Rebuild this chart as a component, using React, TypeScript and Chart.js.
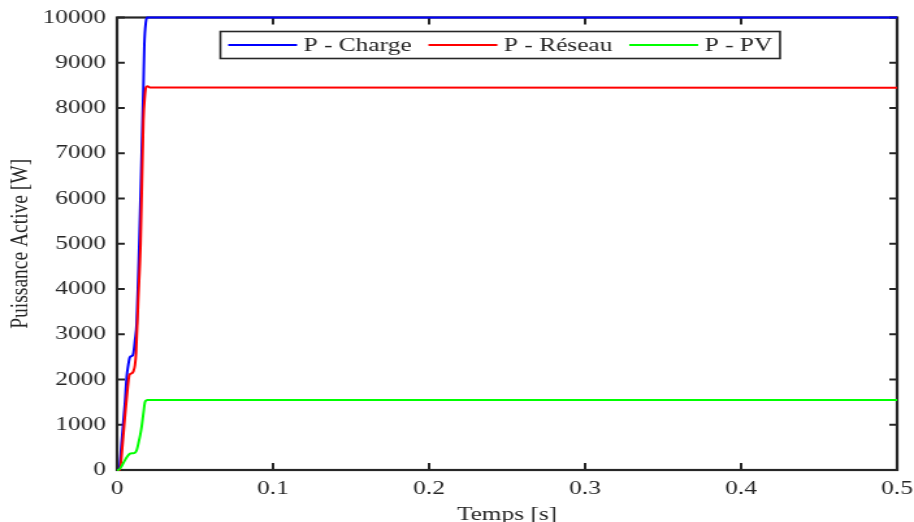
import React, { useEffect, useRef } from "react";
import { Chart, registerables } from "chart.js";

Chart.register(...registerables);

// Puissance active (W) versus temps (s) for the three sources
const chargeTime = [0, 0.0012, 0.003, 0.005, 0.0062, 0.0072, 0.0082, 0.0095, 0.0105, 0.0115, 0.0126, 0.0143, 0.0162, 0.0169, 0.0175, 0.0185, 0.0193, 0.5];
const chargeW = [0, 0, 650, 1450, 2060, 2320, 2490, 2520, 2580, 2870, 3240, 5080, 7500, 8460, 9400, 9900, 10000, 10000];

const reseauTime = [0, 0.0018, 0.0035, 0.005, 0.0065, 0.0079, 0.009, 0.0105, 0.0115, 0.0122, 0.0135, 0.0151, 0.0169, 0.0178, 0.0186, 0.0195, 0.021, 0.5];
const reseauW = [0, 0, 550, 1150, 1700, 2100, 2130, 2180, 2320, 2580, 3670, 5000, 7720, 8250, 8460, 8480, 8455, 8450];

const pvTime = [0, 0.0008, 0.003, 0.0051, 0.0068, 0.0083, 0.01, 0.0115, 0.0127, 0.0137, 0.0148, 0.0158, 0.0169, 0.0179, 0.0187, 0.0196, 0.5];
const pvW = [0, 0, 90, 220, 310, 360, 370, 380, 450, 590, 760, 960, 1250, 1500, 1535, 1545, 1545];

const seriesLabels = ["P - Charge", "P - Réseau", "P - PV"];
const seriesColors = ["#0000ff", "#ff0000", "#00ff00"];

const xTicks = [0, 0.1, 0.2, 0.3, 0.4, 0.5];
const yTicks = [0, 1000, 2000, 3000, 4000, 5000, 6000, 7000, 8000, 9000, 10000];

const xTitle = "Temps [s]";
const yTitle = "Puissance Active [W]";

// The figure is laid out on a narrower canvas and widened horizontally.
const FIG_W = 914;
const FIG_H = 522;
const BASE_W = 703;

const INK = "#262626";
const FONT_FAMILY = '"Liberation Serif", "Times New Roman", serif';
const FONT_SIZE = 19.5;

const toPoints = (t: number[], v: number[]) => t.map((x, i) => ({ x, y: v[i] }));

// Axis box with inward ticks on all four sides
const framePlugin = {
  id: "frameBox",
  beforeDatasetsDraw(chart: any) {
    const { ctx, chartArea } = chart;
    const { left, right, top, bottom } = chartArea;
    const xs = chart.scales.x;
    const ys = chart.scales.y;
    ctx.save();
    ctx.strokeStyle = INK;
    ctx.lineWidth = 2;
    ctx.beginPath();
    xTicks.forEach((v) => {
      const px = xs.getPixelForValue(v);
      ctx.moveTo(px, bottom);
      ctx.lineTo(px, bottom - 7);
      ctx.moveTo(px, top);
      ctx.lineTo(px, top + 7);
    });
    yTicks.forEach((v) => {
      const py = ys.getPixelForValue(v);
      ctx.moveTo(left, py);
      ctx.lineTo(left + 6, py);
      ctx.moveTo(right, py);
      ctx.lineTo(right - 6, py);
    });
    ctx.stroke();
    ctx.lineWidth = 2.2;
    ctx.strokeRect(left, top, right - left, bottom - top);
    ctx.restore();
  },
};

// Boxed legend inside the top of the plot area
const legendPlugin = {
  id: "boxLegend",
  afterDraw(chart: any) {
    const { ctx } = chart;
    const boxLeft = 169.5;
    const boxTop = 31.5;
    const boxH = 27;
    const padL = 6;
    const lineLen = 53;
    const lineGap = 5;
    const itemGap = 13;
    const padR = 6;
    ctx.save();
    ctx.font = `${FONT_SIZE}px ${FONT_FAMILY}`;
    const widths = seriesLabels.map((s) => ctx.measureText(s).width);
    let total = padL + padR;
    widths.forEach((w, i) => {
      total += lineLen + lineGap + w + (i < widths.length - 1 ? itemGap : 0);
    });
    ctx.fillStyle = "#ffffff";
    ctx.fillRect(boxLeft, boxTop, total, boxH);
    ctx.strokeStyle = INK;
    ctx.lineWidth = 1.6;
    ctx.strokeRect(boxLeft, boxTop, total, boxH);
    const cy = boxTop + boxH / 2;
    let x = boxLeft + padL;
    ctx.textBaseline = "middle";
    ctx.textAlign = "left";
    seriesLabels.forEach((label, i) => {
      ctx.strokeStyle = seriesColors[i];
      ctx.lineWidth = 2;
      ctx.beginPath();
      ctx.moveTo(x, cy);
      ctx.lineTo(x + lineLen, cy);
      ctx.stroke();
      x += lineLen + lineGap;
      ctx.fillStyle = INK;
      ctx.fillText(label, x, cy + 0.5);
      x += widths[i] + itemGap;
    });
    ctx.restore();
  },
};

export default function App() {
  const canvasRef = useRef<HTMLCanvasElement | null>(null);

  useEffect(() => {
    if (!canvasRef.current) return;
    const font = { family: FONT_FAMILY, size: FONT_SIZE, lineHeight: 1 };
    const chart = new Chart(canvasRef.current, {
      type: "line",
      data: {
        datasets: [
          {
            label: seriesLabels[0],
            data: toPoints(chargeTime, chargeW),
            borderColor: seriesColors[0],
            order: 3,
            clip: 3,
          },
          {
            label: seriesLabels[1],
            data: toPoints(reseauTime, reseauW),
            borderColor: seriesColors[1],
            order: 2,
            clip: 3,
          },
          {
            label: seriesLabels[2],
            data: toPoints(pvTime, pvW),
            borderColor: seriesColors[2],
            order: 1,
            clip: 3,
          },
        ],
      },
      options: {
        animation: false,
        responsive: true,
        maintainAspectRatio: false,
        devicePixelRatio: 1,
        layout: { padding: { top: 17.5, right: 13, left: 0, bottom: 0 } },
        elements: {
          point: { radius: 0 },
          line: { borderWidth: 2, cubicInterpolationMode: "monotone", fill: false },
        },
        plugins: {
          legend: { display: false },
          tooltip: { enabled: false },
        },
        scales: {
          x: {
            type: "linear",
            min: 0,
            max: 0.5,
            grid: { display: false, drawTicks: false },
            border: { display: false },
            afterBuildTicks: (scale: any) => {
              scale.ticks = xTicks.map((value) => ({ value }));
            },
            afterFit: (scale: any) => {
              scale.height = 52;
              scale.paddingLeft = 0;
              scale.paddingRight = 0;
            },
            ticks: {
              color: INK,
              font,
              padding: 9,
              maxRotation: 0,
              autoSkip: false,
              callback: (v: any) => String(Number(Number(v).toFixed(1))),
            },
            title: {
              display: true,
              text: xTitle,
              color: INK,
              font,
              padding: { top: 0, bottom: -3 },
            },
          },
          y: {
            type: "linear",
            min: 0,
            max: 10000,
            grid: { display: false, drawTicks: false },
            border: { display: false },
            afterBuildTicks: (scale: any) => {
              scale.ticks = yTicks.map((value) => ({ value }));
            },
            afterFit: (scale: any) => {
              scale.width = 90;
              scale.paddingTop = 0;
              scale.paddingBottom = 0;
            },
            ticks: {
              color: INK,
              font,
              padding: 8.5,
              autoSkip: false,
              callback: (v: any) => String(v),
            },
            title: {
              display: true,
              text: yTitle,
              color: INK,
              font,
              padding: { top: 6, bottom: 0 },
            },
          },
        },
      },
      plugins: [framePlugin, legendPlugin],
    } as any);
    return () => chart.destroy();
  }, []);

  return (
    <div
      style={{
        position: "fixed",
        left: 0,
        top: 0,
        width: FIG_W,
        height: FIG_H,
        overflow: "hidden",
        background: "#ffffff",
      }}
    >
      <div
        style={{
          position: "absolute",
          left: 0,
          top: 0,
          width: BASE_W,
          height: FIG_H,
          transform: `scaleX(${FIG_W / BASE_W})`,
          transformOrigin: "0 0",
        }}
      >
        <canvas ref={canvasRef} />
      </div>
    </div>
  );
}
